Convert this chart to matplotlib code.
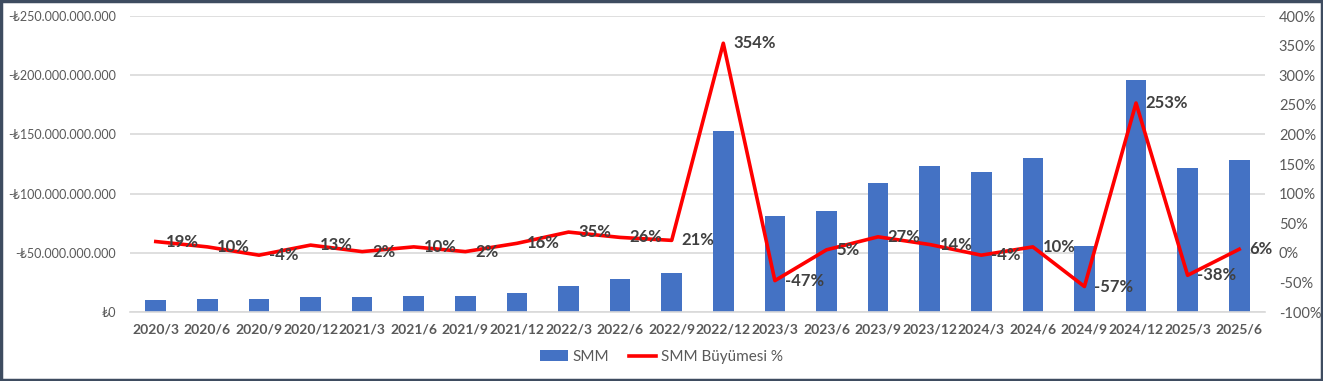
import matplotlib
matplotlib.use("Agg")
import matplotlib.pyplot as plt
from matplotlib.ticker import FuncFormatter, MultipleLocator
from matplotlib.patches import Rectangle
import numpy as np

plt.rcParams['font.family'] = ['Lato', 'DejaVu Sans']

categories = ["2020/3", "2020/6", "2020/9", "2020/12", "2021/3", "2021/6", "2021/9", "2021/12",
              "2022/3", "2022/6", "2022/9", "2022/12", "2023/3", "2023/6", "2023/9", "2023/12",
              "2024/3", "2024/6", "2024/9", "2024/12", "2025/3", "2025/6"]
smm = [10.1e9, 11.3e9, 10.6e9, 12.3e9, 12.3e9, 13.8e9, 13.8e9, 16.0e9,
       22.0e9, 27.5e9, 33.2e9, 153.0e9, 81.3e9, 85.5e9, 109.0e9, 123.6e9,
       118.5e9, 130.0e9, 55.4e9, 196.0e9, 122.0e9, 128.6e9]
growth = [19, 10, -4, 13, 2, 10, 2, 16, 35, 26, 21, 354, -47, 5, 27, 14, -4, 10, -57, 253, -38, 6]

bar_color = "#4472C4"
line_color = "#FF0000"
text_gray = "#595959"
label_gray = "#404040"

fig = plt.figure(figsize=(13.23, 3.81), dpi=100)
ax = fig.add_axes([130/1323, 1-312/381, (1265-130)/1323, (312-16)/381])
x = np.arange(len(categories))
ax.bar(x, smm, width=0.4, color=bar_color, zorder=2, label="SMM")
ax.set_xlim(-0.5, len(categories)-0.5)
ax.set_ylim(0, 250e9)
ax.yaxis.set_major_locator(MultipleLocator(50e9))

def lfmt(v, pos):
    if v == 0:
        return "₺0"
    s = f"{int(round(v)):,}".replace(",", ".")
    return "-₺" + s
ax.yaxis.set_major_formatter(FuncFormatter(lfmt))
ax.grid(axis='y', color="#D9D9D9", linewidth=1.2, zorder=0)
ax.set_axisbelow(True)
for s in ["top", "right", "left"]:
    ax.spines[s].set_visible(False)
ax.spines["bottom"].set_color("#D9D9D9")
ax.spines["bottom"].set_linewidth(1.2)
ax.tick_params(axis='both', length=0)
ax.tick_params(axis='y', labelsize=9, labelcolor=text_gray, pad=10)
ax.set_xticks(x)
ax.set_xticklabels(categories, fontsize=10, fontweight='bold', color=text_gray)
ax.tick_params(axis='x', pad=8)

ax2 = ax.twinx()
ax2.plot(x, growth, color=line_color, linewidth=2.6, zorder=3, label="SMM Büyümesi %")
ax2.set_ylim(-100, 400)
ax2.yaxis.set_major_locator(MultipleLocator(50))
ax2.yaxis.set_major_formatter(FuncFormatter(lambda v, p: f"{int(v)}%"))
for s in ["top", "right", "left", "bottom"]:
    ax2.spines[s].set_visible(False)
ax2.tick_params(axis='y', length=0, labelsize=10.5, labelcolor=text_gray, pad=10)

for xi, g in zip(x, growth):
    ax2.annotate(f"{g}%", (xi, g), xytext=(7, 0), textcoords="offset points",
                 ha='left', va='center', fontsize=12, fontweight='bold',
                 color=label_gray, zorder=5, annotation_clip=False)

h1, l1 = ax.get_legend_handles_labels()
h2, l2 = ax2.get_legend_handles_labels()
fig.legend(h1 + h2, l1 + l2, loc='center', bbox_to_anchor=(0.5, 1-357/381), ncol=2,
           frameon=False, fontsize=11, labelcolor=text_gray, handlelength=1.8,
           columnspacing=1.3, handletextpad=0.3)

fig.patches.append(Rectangle((0.001, 0.002), 0.998, 0.996, transform=fig.transFigure,
                             fill=False, edgecolor="#3E4C60", linewidth=2.5, zorder=10))

fig.savefig("out.png", dpi=100, facecolor="white")
